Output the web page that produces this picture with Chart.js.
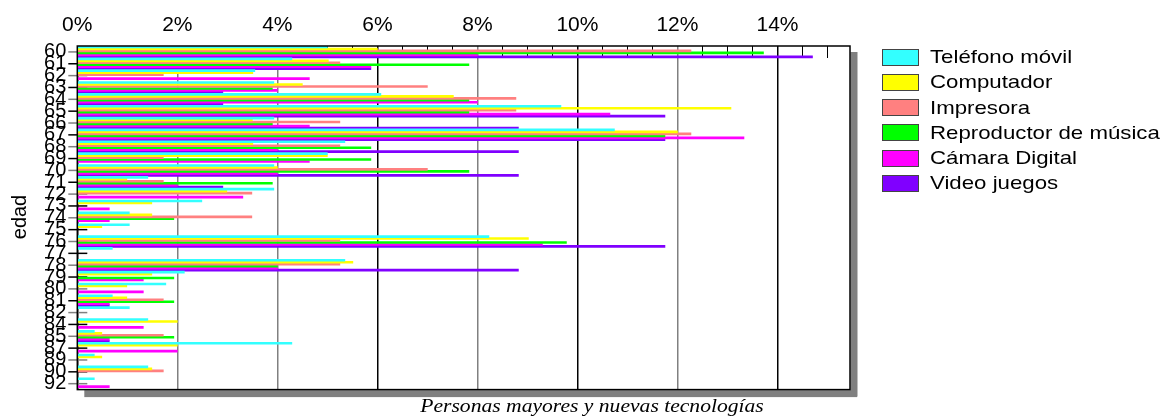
<!DOCTYPE html>
<html>
<head>
<meta charset="utf-8">
<script src="https://cdn.jsdelivr.net/npm/chart.js@4.4.1/dist/chart.umd.min.js"></script>
<style>
  body { margin: 0; background: #fff; }
  #wrap { position: relative; width: 1166px; height: 417px; }
  #legend { position: absolute; left: 882px; top: 44.7px; font: 19px "Liberation Sans", Arial, sans-serif; color: #000; }
  .item { height: 25.2px; display: flex; align-items: center; white-space: nowrap; }
  .box { width: 35px; height: 15px; border: 1px solid #444; margin-right: 11px; }
  .txt { display: inline-block; transform: scaleX(1.17); transform-origin: left center; }
</style>
</head>
<body>
<div id="wrap">
  <canvas id="chart" width="1166" height="417"></canvas>
  <div id="legend"></div>
</div>
<script>
const ages = ['60','61','62','63','64','65','66','67','68','69','70','71','72','73','74','75','76','77','78','79','80','81','82','84','85','87','89','90','92'];

const telefono    = [5.0, 4.29, 3.55, 3.93, 6.07, 9.67, 3.93, 10.74, 5.35, 5.0, 3.93, 1.41, 3.93, 2.49, 1.04, 1.04, 8.23, 0.7, 5.35, 2.14, 1.77, 0.7, 1.04, 1.41, 0.34, 4.29, 0.34, 1.41, 0.34];
const computador  = [6.0, 5.02, 3.51, 4.5, 7.52, 13.07, 3.5, 12.0, 3.51, 5.0, 4.0, 0.99, 2.99, 1.49, 1.49, 0.49, 9.02, 0, 5.51, 1.49, 0.99, 0.99, 0, 2.0, 0.49, 2.0, 0.49, 1.49, 0];
const impresora   = [12.27, 5.25, 1.72, 7.0, 8.77, 8.77, 5.25, 12.27, 5.25, 1.72, 7.0, 1.72, 3.49, 0, 3.49, 0, 5.25, 0, 5.25, 0, 0, 1.72, 0, 0, 1.72, 0, 0, 1.72, 0];
const reproductor = [13.72, 7.83, 0, 3.9, 7.83, 7.83, 3.9, 11.75, 5.87, 5.87, 7.83, 3.9, 0, 0, 1.93, 0, 9.78, 0, 4.0, 1.93, 0, 1.93, 0, 0, 1.93, 0, 0, 0, 0];
const camara      = [8.0, 5.87, 4.64, 4.0, 8.0, 10.65, 4.64, 13.33, 4.0, 4.64, 4.0, 2.0, 3.31, 0.64, 0.64, 0, 9.3, 0, 4.0, 1.32, 1.32, 0.64, 0, 1.32, 0.64, 2.0, 0, 0, 0.64];
const videojuegos = [14.7, 5.87, 0, 2.91, 2.91, 11.75, 8.82, 11.75, 8.82, 0, 8.82, 2.91, 0, 0, 0, 0, 11.75, 0, 8.82, 0, 0, 0.64, 0, 0, 0.64, 0, 0, 0, 0];

const seriesNames = ['Teléfono móvil', 'Computador', 'Impresora', 'Reproductor de música', 'Cámara Digital', 'Video juegos'];
const seriesColors = ['#33FFFF', '#FFFF00', '#FF8080', '#00FF00', '#FF00FF', '#8000FF'];
const seriesData = [telefono, computador, impresora, reproductor, camara, videojuegos];

const xMax = 15.45;
const darkGrid = [0, 6, 10, 14];
const sans = '"Liberation Sans", Arial, sans-serif';

// legend (html so the text stays text)
const legendEl = document.getElementById('legend');
seriesNames.forEach((name, i) => {
  const row = document.createElement('div');
  row.className = 'item';
  row.innerHTML = '<span class="box" style="background:' + seriesColors[i] + '"></span><span class="txt">' + name + '</span>';
  legendEl.appendChild(row);
});

const decor = {
  id: 'decor',
  beforeDatasetsDraw(chart) {
    const { ctx, chartArea: a, scales } = chart;
    ctx.save();
    // small ticks along the top, every 0.5%
    ctx.strokeStyle = '#000';
    ctx.lineWidth = 1;
    for (let v = 0.5; v <= 15; v += 0.5) {
      if (v % 2 === 0) continue;
      const x = Math.round(scales.x.getPixelForValue(v)) + 0.5;
      ctx.beginPath();
      ctx.moveTo(x, a.top);
      ctx.lineTo(x, a.top + 12);
      ctx.stroke();
    }
    // category ticks crossing the left axis
    ctx.lineWidth = 1.5;
    ages.forEach((_, i) => {
      const y = scales.y.getPixelForTick(i);
      ctx.strokeStyle = i % 2 === 0 ? '#808080' : '#000';
      ctx.beginPath();
      ctx.moveTo(a.left - 9, y);
      ctx.lineTo(a.left + 10, y);
      ctx.stroke();
    });
    ctx.restore();
  },
  afterDraw(chart) {
    const { ctx, chartArea: a } = chart;
    ctx.save();
    // shadow
    ctx.fillStyle = '#808080';
    ctx.fillRect(a.right + 0.5, a.top + 6, 7, a.bottom - a.top + 1);
    ctx.fillRect(a.left + 7, a.bottom + 0.5, a.right - a.left, 7);
    // frame
    ctx.strokeStyle = '#000';
    ctx.lineWidth = 1.5;
    ctx.strokeRect(a.left, a.top, a.right - a.left, a.bottom - a.top);
    // axis titles
    ctx.fillStyle = '#000';
    ctx.textAlign = 'center';
    ctx.textBaseline = 'middle';
    ctx.save();
    ctx.translate(592, 407);
    ctx.scale(1.2, 1);
    ctx.font = 'italic 18px "Liberation Serif", "Times New Roman", serif';
    ctx.fillText('Personas mayores y nuevas tecnologías', 0, 0);
    ctx.restore();
    ctx.translate(20, 217);
    ctx.rotate(-Math.PI / 2);
    ctx.font = '20px ' + sans;
    ctx.fillText('edad', 0, 0);
    ctx.restore();
  }
};

new Chart(document.getElementById('chart').getContext('2d'), {
  type: 'bar',
  data: {
    labels: ages,
    datasets: seriesNames.map((name, i) => ({
      label: name,
      data: seriesData[i],
      backgroundColor: seriesColors[i],
      borderWidth: 0,
      categoryPercentage: 1,
      barPercentage: 1
    }))
  },
  options: {
    indexAxis: 'y',
    responsive: false,
    animation: false,
    layout: { padding: { top: 0, left: 0, right: 316, bottom: 27.4 } },
    plugins: {
      legend: { display: false },
      tooltip: { enabled: false }
    },
    scales: {
      x: {
        position: 'top',
        min: 0,
        max: xMax,
        afterFit: s => { s.height = 46; },
        ticks: {
          stepSize: 2,
          includeBounds: false,
          color: '#000',
          font: { size: 21, family: sans },
          padding: 8,
          callback: v => v + '%'
        },
        grid: {
          drawTicks: false,
          lineWidth: 1.5,
          color: c => (c.tick && darkGrid.includes(c.tick.value)) ? '#000' : '#808080'
        },
        border: { display: false }
      },
      y: {
        afterFit: s => { s.width = 77.3; },
        ticks: {
          autoSkip: false,
          color: '#000',
          font: { size: 20, family: sans },
          padding: 11
        },
        grid: { display: false, drawTicks: false },
        border: { display: false }
      }
    }
  },
  plugins: [decor]
});
</script>
</body>
</html>
